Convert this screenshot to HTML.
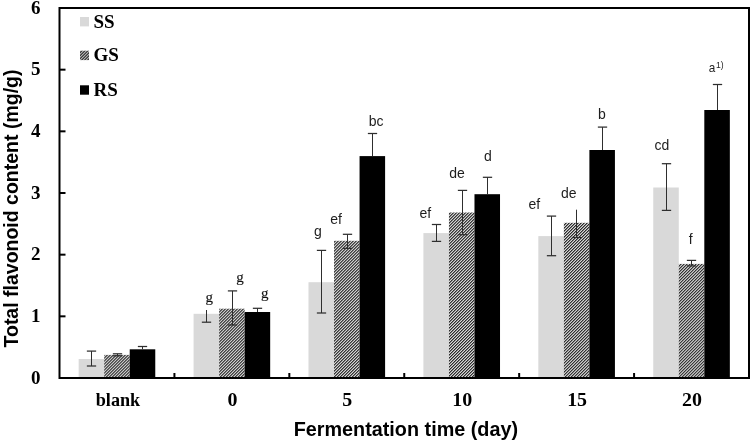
<!DOCTYPE html>
<html><head><meta charset="utf-8"><style>
html,body{margin:0;padding:0;background:#fff;width:751px;height:441px;overflow:hidden}
svg{display:block;will-change:transform}
.tb{font-family:"Liberation Serif",serif;font-weight:bold;font-size:19px;fill:#000}
.sr{font-family:"Liberation Serif",serif;font-size:15px;fill:#111;stroke:#222;stroke-width:0.15px}
.ss{font-family:"Liberation Sans",sans-serif;font-size:14px;fill:#1e1e1e}
.at{font-family:"Liberation Sans",sans-serif;font-weight:bold;font-size:19px;fill:#000}
</style></head><body>
<svg width="751" height="441" viewBox="0 0 751 441">
<defs>
<pattern id="hatch" patternUnits="userSpaceOnUse" width="2.12" height="2.12" patternTransform="rotate(45)">
<rect width="2.12" height="2.12" fill="#dadada"/><rect width="1.06" height="2.12" fill="#2a2a2a"/>
</pattern>
<pattern id="hatchL" patternUnits="userSpaceOnUse" width="2.12" height="2.12" patternTransform="rotate(45)">
<rect width="2.12" height="2.12" fill="#e8e8e8"/><rect width="1.15" height="2.12" fill="#111"/>
</pattern>
</defs>
<rect width="751" height="441" fill="#fff"/>
<rect x="78.65" y="359.00" width="25.54" height="19.00" fill="#d9d9d9"/>
<rect x="104.19" y="354.90" width="25.54" height="23.10" fill="url(#hatch)"/>
<rect x="129.73" y="349.30" width="25.54" height="28.70" fill="#000"/>
<rect x="193.57" y="313.80" width="25.54" height="64.20" fill="#d9d9d9"/>
<rect x="219.11" y="308.70" width="25.54" height="69.30" fill="url(#hatch)"/>
<rect x="244.64" y="312.00" width="25.54" height="66.00" fill="#000"/>
<rect x="308.49" y="282.20" width="25.54" height="95.80" fill="#d9d9d9"/>
<rect x="334.02" y="240.80" width="25.54" height="137.20" fill="url(#hatch)"/>
<rect x="359.56" y="156.10" width="25.54" height="221.90" fill="#000"/>
<rect x="423.40" y="233.10" width="25.54" height="144.90" fill="#d9d9d9"/>
<rect x="448.94" y="212.50" width="25.54" height="165.50" fill="url(#hatch)"/>
<rect x="474.48" y="194.20" width="25.54" height="183.80" fill="#000"/>
<rect x="538.32" y="236.10" width="25.54" height="141.90" fill="#d9d9d9"/>
<rect x="563.86" y="222.80" width="25.54" height="155.20" fill="url(#hatch)"/>
<rect x="589.39" y="150.00" width="25.54" height="228.00" fill="#000"/>
<rect x="653.24" y="187.50" width="25.54" height="190.50" fill="#d9d9d9"/>
<rect x="678.77" y="263.90" width="25.54" height="114.10" fill="url(#hatch)"/>
<rect x="704.31" y="110.00" width="25.54" height="268.00" fill="#000"/>
<line x1="91.50" y1="351.10" x2="91.50" y2="366.00" stroke="#2e2e2e" stroke-width="1"/>
<line x1="86.85" y1="351.10" x2="96.15" y2="351.10" stroke="#2e2e2e" stroke-width="1.25"/>
<line x1="86.85" y1="366.00" x2="96.15" y2="366.00" stroke="#2e2e2e" stroke-width="1.25"/>
<line x1="117.50" y1="353.80" x2="117.50" y2="355.80" stroke="#2e2e2e" stroke-width="1"/>
<line x1="112.85" y1="353.80" x2="122.15" y2="353.80" stroke="#2e2e2e" stroke-width="1.25"/>
<line x1="112.85" y1="355.80" x2="122.15" y2="355.80" stroke="#2e2e2e" stroke-width="1.25"/>
<line x1="142.50" y1="346.50" x2="142.50" y2="349.30" stroke="#2e2e2e" stroke-width="1"/>
<line x1="137.85" y1="346.50" x2="147.15" y2="346.50" stroke="#2e2e2e" stroke-width="1.25"/>
<line x1="206.50" y1="310.00" x2="206.50" y2="322.20" stroke="#2e2e2e" stroke-width="1"/>
<line x1="201.85" y1="322.20" x2="211.15" y2="322.20" stroke="#2e2e2e" stroke-width="1.25"/>
<line x1="232.50" y1="290.90" x2="232.50" y2="325.00" stroke="#2e2e2e" stroke-width="1"/>
<line x1="227.85" y1="290.90" x2="237.15" y2="290.90" stroke="#2e2e2e" stroke-width="1.25"/>
<line x1="227.85" y1="325.00" x2="237.15" y2="325.00" stroke="#2e2e2e" stroke-width="1.25"/>
<line x1="257.50" y1="308.30" x2="257.50" y2="312.00" stroke="#2e2e2e" stroke-width="1"/>
<line x1="252.85" y1="308.30" x2="262.15" y2="308.30" stroke="#2e2e2e" stroke-width="1.25"/>
<line x1="321.50" y1="250.40" x2="321.50" y2="313.00" stroke="#2e2e2e" stroke-width="1"/>
<line x1="316.85" y1="250.40" x2="326.15" y2="250.40" stroke="#2e2e2e" stroke-width="1.25"/>
<line x1="316.85" y1="313.00" x2="326.15" y2="313.00" stroke="#2e2e2e" stroke-width="1.25"/>
<line x1="347.50" y1="234.30" x2="347.50" y2="248.40" stroke="#2e2e2e" stroke-width="1"/>
<line x1="342.85" y1="234.30" x2="352.15" y2="234.30" stroke="#2e2e2e" stroke-width="1.25"/>
<line x1="342.85" y1="248.40" x2="352.15" y2="248.40" stroke="#2e2e2e" stroke-width="1.25"/>
<line x1="372.50" y1="133.50" x2="372.50" y2="156.10" stroke="#2e2e2e" stroke-width="1"/>
<line x1="367.85" y1="133.50" x2="377.15" y2="133.50" stroke="#2e2e2e" stroke-width="1.25"/>
<line x1="436.50" y1="224.50" x2="436.50" y2="241.40" stroke="#2e2e2e" stroke-width="1"/>
<line x1="431.85" y1="224.50" x2="441.15" y2="224.50" stroke="#2e2e2e" stroke-width="1.25"/>
<line x1="431.85" y1="241.40" x2="441.15" y2="241.40" stroke="#2e2e2e" stroke-width="1.25"/>
<line x1="462.50" y1="190.40" x2="462.50" y2="234.70" stroke="#2e2e2e" stroke-width="1"/>
<line x1="457.85" y1="190.40" x2="467.15" y2="190.40" stroke="#2e2e2e" stroke-width="1.25"/>
<line x1="457.85" y1="234.70" x2="467.15" y2="234.70" stroke="#2e2e2e" stroke-width="1.25"/>
<line x1="487.50" y1="177.30" x2="487.50" y2="194.20" stroke="#2e2e2e" stroke-width="1"/>
<line x1="482.85" y1="177.30" x2="492.15" y2="177.30" stroke="#2e2e2e" stroke-width="1.25"/>
<line x1="551.50" y1="216.10" x2="551.50" y2="255.70" stroke="#2e2e2e" stroke-width="1"/>
<line x1="546.85" y1="216.10" x2="556.15" y2="216.10" stroke="#2e2e2e" stroke-width="1.25"/>
<line x1="546.85" y1="255.70" x2="556.15" y2="255.70" stroke="#2e2e2e" stroke-width="1.25"/>
<line x1="576.50" y1="209.70" x2="576.50" y2="237.50" stroke="#2e2e2e" stroke-width="1"/>
<line x1="571.85" y1="237.50" x2="581.15" y2="237.50" stroke="#2e2e2e" stroke-width="1.25"/>
<line x1="602.50" y1="127.10" x2="602.50" y2="150.00" stroke="#2e2e2e" stroke-width="1"/>
<line x1="597.85" y1="127.10" x2="607.15" y2="127.10" stroke="#2e2e2e" stroke-width="1.25"/>
<line x1="666.50" y1="163.70" x2="666.50" y2="210.40" stroke="#2e2e2e" stroke-width="1"/>
<line x1="661.85" y1="163.70" x2="671.15" y2="163.70" stroke="#2e2e2e" stroke-width="1.25"/>
<line x1="661.85" y1="210.40" x2="671.15" y2="210.40" stroke="#2e2e2e" stroke-width="1.25"/>
<line x1="691.50" y1="260.40" x2="691.50" y2="265.90" stroke="#2e2e2e" stroke-width="1"/>
<line x1="686.85" y1="260.40" x2="696.15" y2="260.40" stroke="#2e2e2e" stroke-width="1.25"/>
<line x1="686.85" y1="265.90" x2="696.15" y2="265.90" stroke="#2e2e2e" stroke-width="1.25"/>
<line x1="717.50" y1="84.50" x2="717.50" y2="110.00" stroke="#2e2e2e" stroke-width="1"/>
<line x1="712.85" y1="84.50" x2="722.15" y2="84.50" stroke="#2e2e2e" stroke-width="1.25"/>
<rect x="59.5" y="8.0" width="689.5" height="370.0" fill="none" stroke="#000" stroke-width="2"/>
<line x1="59.5" y1="378.00" x2="65.5" y2="378.00" stroke="#000" stroke-width="2"/>
<line x1="59.5" y1="316.33" x2="65.5" y2="316.33" stroke="#000" stroke-width="2"/>
<line x1="59.5" y1="254.67" x2="65.5" y2="254.67" stroke="#000" stroke-width="2"/>
<line x1="59.5" y1="193.00" x2="65.5" y2="193.00" stroke="#000" stroke-width="2"/>
<line x1="59.5" y1="131.33" x2="65.5" y2="131.33" stroke="#000" stroke-width="2"/>
<line x1="59.5" y1="69.67" x2="65.5" y2="69.67" stroke="#000" stroke-width="2"/>
<line x1="59.5" y1="8.00" x2="65.5" y2="8.00" stroke="#000" stroke-width="2"/>
<line x1="174.42" y1="378.0" x2="174.42" y2="373.0" stroke="#000" stroke-width="2"/>
<line x1="289.33" y1="378.0" x2="289.33" y2="373.0" stroke="#000" stroke-width="2"/>
<line x1="404.25" y1="378.0" x2="404.25" y2="373.0" stroke="#000" stroke-width="2"/>
<line x1="519.17" y1="378.0" x2="519.17" y2="373.0" stroke="#000" stroke-width="2"/>
<line x1="634.08" y1="378.0" x2="634.08" y2="373.0" stroke="#000" stroke-width="2"/>
<text x="40.5" y="383.50" text-anchor="end" class="tb">0</text>
<text x="40.5" y="321.83" text-anchor="end" class="tb">1</text>
<text x="40.5" y="260.17" text-anchor="end" class="tb">2</text>
<text x="40.5" y="198.50" text-anchor="end" class="tb">3</text>
<text x="40.5" y="136.83" text-anchor="end" class="tb">4</text>
<text x="40.5" y="75.17" text-anchor="end" class="tb">5</text>
<text x="40.5" y="13.50" text-anchor="end" class="tb">6</text>
<text transform="translate(117.96,405.6) scale(0.957,1)" text-anchor="middle" class="tb">blank</text>
<text transform="translate(232.38,405.8) scale(1.05,1)" text-anchor="middle" class="tb">0</text>
<text transform="translate(347.29,405.8) scale(1.05,1)" text-anchor="middle" class="tb">5</text>
<text transform="translate(462.21,405.8) scale(1.05,1)" text-anchor="middle" class="tb">10</text>
<text transform="translate(577.12,405.8) scale(1.05,1)" text-anchor="middle" class="tb">15</text>
<text transform="translate(692.04,405.8) scale(1.05,1)" text-anchor="middle" class="tb">20</text>
<rect x="80" y="17.0" width="9" height="9.4" fill="#d9d9d9"/>
<text x="93.5" y="28.20" class="tb">SS</text>
<rect x="80" y="50.7" width="9" height="9.4" fill="url(#hatchL)"/>
<text x="93.5" y="61.40" class="tb">GS</text>
<rect x="80" y="85.3" width="9" height="9.4" fill="#000"/>
<text x="93.5" y="95.50" class="tb">RS</text>
<text x="209.2" y="302.4" text-anchor="middle" class="sr">g</text>
<text x="240.0" y="282.4" text-anchor="middle" class="sr">g</text>
<text x="264.8" y="297.6" text-anchor="middle" class="sr">g</text>
<text x="317.9" y="236.0" text-anchor="middle" class="ss">g</text>
<text x="336.0" y="223.5" text-anchor="middle" class="ss">ef</text>
<text x="376.2" y="125.8" text-anchor="middle" class="ss">bc</text>
<text x="425.4" y="218.2" text-anchor="middle" class="ss">ef</text>
<text x="457.0" y="178.4" text-anchor="middle" class="ss">de</text>
<text x="487.9" y="160.7" text-anchor="middle" class="ss">d</text>
<text x="534.3" y="209.1" text-anchor="middle" class="ss">ef</text>
<text x="568.8" y="197.5" text-anchor="middle" class="ss">de</text>
<text x="602.0" y="119.2" text-anchor="middle" class="ss">b</text>
<text x="661.9" y="150.2" text-anchor="middle" class="ss">cd</text>
<text x="690.8" y="244.1" text-anchor="middle" class="ss">f</text>
<text transform="translate(708.7,71.8) scale(0.95,1)" class="ss" style="font-size:12.4px">a</text>
<text transform="translate(715.9,67.9)" class="ss" style="font-size:8.6px">1)</text>
<text transform="translate(405.85,435.7) scale(1.0157,1)" text-anchor="middle" class="at" style="font-size:19.5px">Fermentation time (day)</text>
<text transform="translate(18.0,208.5) rotate(-90) scale(0.9855,1)" x="0" y="0" text-anchor="middle" class="at" style="font-size:19.8px">Total flavonoid content (mg/g)</text>
</svg>
</body></html>
